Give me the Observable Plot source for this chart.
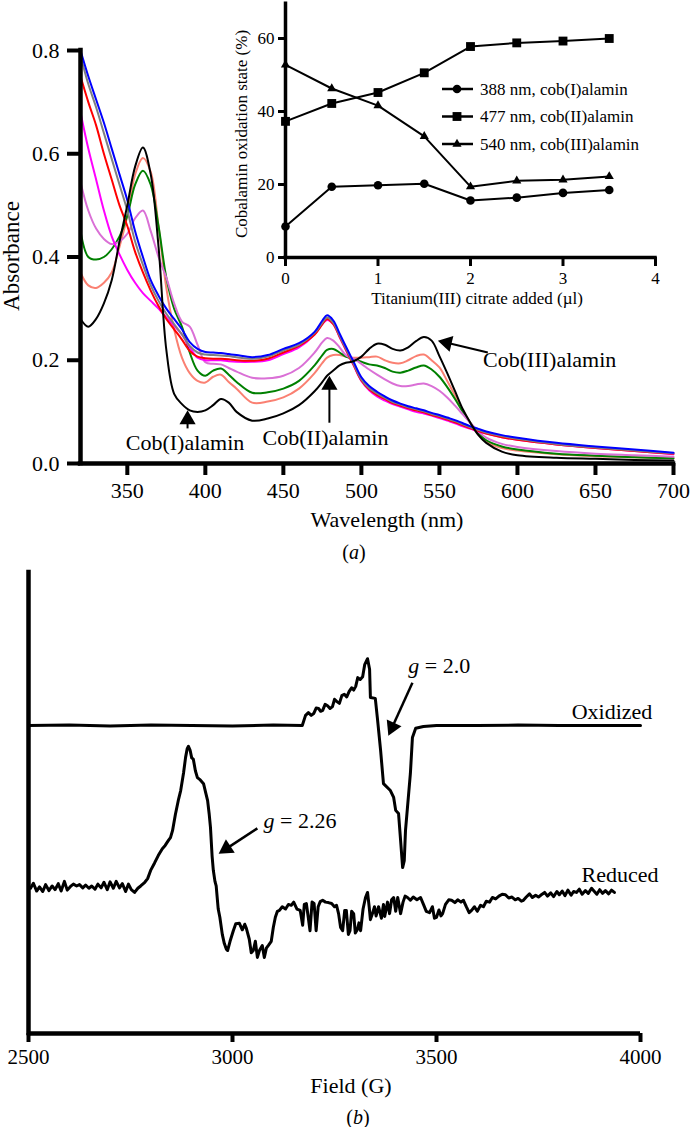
<!DOCTYPE html>
<html><head><meta charset="utf-8">
<script src="https://cdn.jsdelivr.net/npm/d3@7"></script>
<script src="https://cdn.jsdelivr.net/npm/@observablehq/plot@0.6"></script>
<style>
body{margin:0;background:#fff;}
#root{position:relative;width:692px;height:1127px;background:#fff;font-family:"Liberation Serif",serif;color:#000;overflow:hidden}
.lbl{position:absolute;white-space:nowrap;line-height:1;color:#000;font-family:"Liberation Serif",serif !important}
svg{position:absolute}
svg text{font-family:"Liberation Serif",serif !important}
</style></head><body><div id="root"></div>
<script>
// ---------------- DATA: panel (a) UV-vis spectra ----------------
const wavelengths = [320,325,330,335,340,345,350,355,360,365,370,375,380,385,390,395,400,405,410,415,420,430,440,450,460,470,475,478,482,486,490,495,500,505,510,515,520,525,530,535,540,545,550,555,560,565,570,575,580,590,600,625,650,675,700];
const specSalmon = [.37,.345,.34,.35,.37,.42,.48,.56,.592,.565,.46,.34,.26,.205,.175,.16,.157,.168,.172,.158,.145,.118,.12,.128,.145,.175,.195,.205,.21,.21,.207,.205,.205,.206,.207,.2,.195,.194,.2,.208,.211,.2,.186,.16,.132,.103,.078,.056,.042,.03,.025,.018,.014,.012,.01];
const specGreen = [.45,.40,.395,.40,.415,.44,.48,.54,.567,.54,.46,.36,.30,.265,.215,.18,.17,.18,.184,.172,.158,.137,.138,.145,.16,.19,.21,.22,.222,.215,.207,.202,.197,.192,.19,.185,.178,.176,.18,.186,.19,.182,.168,.148,.125,.1,.078,.058,.045,.033,.027,.019,.015,.012,.01];
const specOrchid = [.545,.49,.455,.435,.425,.43,.445,.475,.49,.45,.40,.36,.31,.275,.265,.23,.196,.193,.192,.185,.178,.166,.165,.17,.185,.215,.235,.243,.238,.225,.21,.203,.193,.182,.172,.163,.155,.15,.15,.153,.155,.15,.141,.128,.112,.095,.078,.062,.05,.038,.032,.024,.019,.016,.013];
const specMagenta = [.68,.61,.55,.49,.44,.405,.375,.35,.33,.315,.30,.283,.267,.25,.225,.205,.2,.2,.2,.198,.197,.197,.2,.212,.225,.25,.27,.278,.27,.245,.22,.19,.16,.142,.13,.122,.115,.11,.105,.1,.097,.093,.088,.083,.078,.072,.067,.062,.058,.051,.046,.037,.03,.024,.018];
const specRed = [.75,.70,.655,.60,.55,.50,.46,.41,.37,.335,.305,.28,.26,.24,.218,.207,.204,.203,.203,.202,.2,.199,.203,.215,.228,.25,.27,.28,.27,.246,.221,.191,.161,.144,.133,.125,.117,.112,.107,.103,.099,.094,.09,.085,.08,.074,.068,.063,.058,.051,.046,.037,.03,.024,.019];
const specGray = [.79,.735,.69,.64,.59,.54,.49,.43,.385,.345,.315,.29,.27,.25,.228,.215,.211,.21,.209,.208,.206,.203,.207,.219,.23,.253,.273,.283,.273,.248,.223,.193,.163,.146,.136,.127,.119,.114,.109,.105,.101,.096,.092,.087,.082,.076,.07,.065,.06,.053,.048,.038,.031,.025,.02];
const specBlue = [.80,.75,.705,.66,.61,.56,.51,.45,.40,.355,.325,.30,.28,.26,.235,.222,.216,.215,.214,.212,.21,.206,.21,.222,.233,.255,.277,.287,.277,.252,.227,.197,.167,.15,.139,.13,.122,.116,.111,.107,.103,.098,.094,.089,.084,.078,.072,.067,.062,.055,.05,.04,.033,.027,.021];
const specBlack = [.28,.265,.28,.31,.355,.43,.50,.575,.612,.56,.42,.22,.135,.115,.103,.10,.103,.113,.125,.118,.10,.083,.087,.097,.113,.14,.158,.17,.18,.19,.195,.198,.207,.222,.232,.23,.222,.219,.225,.237,.245,.238,.208,.175,.14,.105,.078,.055,.04,.023,.016,.011,.009,.007,.006];
const spectraNames = ["salmon","green","orchid","magenta","red","gray","blue","black"];
const spectraValues = [specSalmon,specGreen,specOrchid,specMagenta,specRed,specGray,specBlue,specBlack];
const xTicksA = [350,400,450,500,550,600,650,700];
const yTicksA = [0,0.2,0.4,0.6,0.8];

// annotations (a)
const aLabels = ["Cob(I)alamin","Cob(II)alamin","Cob(III)alamin"];
const aLabelNm = [387,477,578];
const aLabelAbs = [0.039,0.05,0.2];
const aLabelAnchor = ["middle","middle","start"];
const aFromNm = [388.6,479.5,581];
const aFromAbs = [0.068,0.079,0.215];
const aToNm = [388.6,479.5,549];
const aToAbs = [0.103,0.17,0.238];

// ---------------- DATA: inset ----------------
const titrant = [0,0.5,1,1.5,2,2.5,3,3.5];
const cobI = [8.5,19.4,19.8,20.2,15.6,16.4,17.7,18.5];
const cobII = [37.3,42.2,45.2,50.6,57.8,58.8,59.3,60.0];
const cobIII = [52.8,46.3,41.6,33.2,19.4,21.0,21.3,22.2];
const insetNames = ["388 nm, cob(I)alamin","477 nm, cob(II)alamin","540 nm, cob(III)alamin"];
const insetXTicks = [0,1,2,3,4];
const insetYTicks = [0,20,40,60];

// ---------------- DATA: panel (b) EPR ----------------
const fieldOx = [2500,2600,2700,2800,2900,3000,3100,3171,3179,3186,3193,3199,3205,3211,3216,3221,3227,3233,3239,3245,3250,3256,3262,3268,3274,3280,3286,3292,3297,3302,3307,3313,3319,3324,3331,3336,3338,3350,3355,3363,3370,3387,3395,3400,3407,3412,3417,3421,3424,3436,3441,3449,3468,3500,3600,3700,3800,3900,4000];
const sigOx = [66.8,66.9,66.7,66.9,66.8,66.7,66.9,66.8,69.0,69.6,69.0,69.4,70.6,70.5,69.9,70.1,71.4,71.1,70.5,70.9,72.5,72.0,71.6,73.3,73.6,73.0,74.2,75.0,74.5,75.3,77.2,76.8,77.4,80.0,81.3,79.0,72.9,72.7,68.5,61.4,54.2,52.7,51.2,48.4,47.7,41.9,36.0,37.5,44.0,56.4,64.2,66.2,66.6,66.8,66.8,66.9,66.8,66.8,66.8];
const fieldRed = [2505,2512,2520,2527,2535,2542,2550,2558,2565,2573,2580,2588,2595,2603,2610,2618,2625,2633,2640,2648,2655,2663,2670,2678,2685,2693,2700,2708,2715,2723,2730,2738,2745,2752,2760,2768,2775,2785,2792,2800,2809,2818,2828,2835,2843,2848,2853,2860,2867,2873,2880,2885,2889,2892,2896,2900,2904,2909,2914,2921,2929,2935,2939,2943,2946,2950,2953,2957,2960,2965,2969,2975,2980,2985,2988,2994,3002,3008,3017,3024,3030,3034,3041,3046,3051,3056,3061,3066,3073,3078,3083,3088,3095,3100,3105,3110,3115,3122,3130,3137,3144,3150,3158,3166,3172,3176,3181,3186,3190,3195,3200,3205,3210,3215,3221,3228,3235,3243,3250,3255,3260,3265,3270,3275,3279,3284,3288,3292,3297,3301,3306,3310,3314,3320,3326,3331,3335,3338,3343,3348,3352,3358,3365,3370,3373,3380,3385,3390,3395,3400,3405,3412,3418,3423,3429,3436,3443,3452,3461,3468,3475,3483,3490,3495,3500,3506,3511,3515,3522,3530,3537,3545,3552,3560,3566,3573,3580,3586,3593,3600,3608,3615,3622,3630,3637,3645,3653,3661,3669,3677,3685,3693,3700,3708,3713,3720,3728,3735,3743,3750,3757,3765,3772,3780,3787,3795,3801,3808,3815,3822,3830,3836,3843,3850,3857,3865,3872,3880,3887,3893,3900,3907,3914,3922,3929,3936];
const sigRed = [31.5,32.6,30.9,31.8,30.8,32.3,31.0,32.0,31.2,32.5,30.9,33.0,31.1,31.9,32.4,32.0,32.3,31.6,32.2,31.5,32.0,31.3,32.4,31.6,32.8,31.2,32.9,31.5,33.0,31.6,32.5,30.8,32.4,31.2,30.6,31.5,32.0,32.8,33.6,35.5,37.0,38.6,40.1,40.8,41.9,42.5,44.0,47.5,50.5,52.7,56.5,59.9,61.8,62.3,61.5,59.8,59.5,57.0,55.5,55.0,54.2,52.0,50.5,47.5,44.7,38.5,35.4,33.0,32.0,27.0,25.2,21.5,19.5,18.3,18.0,20.0,22.3,23.8,23.9,22.5,23.7,22.8,20.5,17.5,18.0,20.0,16.5,18.0,19.1,16.5,18.5,19.1,20.0,23.0,25.2,26.5,26.7,27.5,27.0,28.0,27.8,28.5,27.0,26.7,23.5,28.0,28.2,25.0,22.3,28.5,28.2,22.3,27.5,28.6,28.9,28.5,28.4,28.2,27.5,27.8,26.0,23.0,22.3,26.7,26.7,21.5,22.3,26.5,26.0,21.8,22.5,24.0,22.3,27.0,29.5,30.6,27.5,24.7,26.0,27.5,25.5,27.5,25.0,28.0,25.4,28.5,26.0,29.0,29.5,26.5,29.5,26.0,28.5,29.8,29.5,28.9,29.6,29.0,29.5,28.0,26.5,26.2,27.5,25.0,25.2,26.8,25.5,26.0,28.0,29.0,28.9,28.4,29.0,28.5,28.9,27.5,26.2,26.7,27.5,26.5,27.8,27.5,28.7,28.5,29.5,29.2,29.8,30.2,30.1,29.4,29.6,29.0,29.3,28.7,28.9,29.6,30.3,29.5,30.0,29.6,30.1,30.6,29.8,30.5,29.7,30.8,30.1,30.9,29.9,31.1,30.0,30.8,30.6,31.3,30.2,31.0,30.4,31.5,30.8,30.2,31.2,30.4,31.0,30.3,31.1,30.6];
const xTicksB = [2500,3000,3500,4000];
const bLabels = ["g = 2.0","g = 2.26","Oxidized","Reduced"];
const bLabelField = [3431,3076,4029,4044];
const bLabelSig = [79.8,46.2,69.8,34.3];
const bLabelAnchor = ["start","start","end","end"];
const bFromField = [3441,3061];
const bFromSig = [76.1,44.5];
const bToField = [3382,2966];
const bToSig = [64.6,39.0];

// ---------------- STYLES ----------------
const FONT = '"Liberation Serif", serif';
const spectraColors = ["#f06f7c","#80e66e","#db86dc","#f23cae","#e3201f","#3f3f3f","#3656dc","#111111"];
const root = document.getElementById("root");

function lin(d0,d1,r0,r1){return v => r0 + (v-d0)/(d1-d0)*(r1-r0);}
function arrowMarks(x1,y1,x2,y2,sx,sy,r,sw){
  const dxp = sx(x2)-sx(x1), dyp = sy(y2)-sy(y1);
  const len = Math.hypot(dxp,dyp), ux = dxp/len, uy = dyp/len;
  const ang = Math.atan2(ux,-uy)*180/Math.PI;
  const off = 1.555*r;
  const f = Math.max(0,(len-off)/len);
  const ex = x1+(x2-x1)*f, ey = y1+(y2-y1)*f;
  return [
    Plot.link([{x1,y1,x2:ex,y2:ey}],{x1:"x1",y1:"y1",x2:"x2",y2:"y2",stroke:"black",strokeWidth:sw}),
    Plot.dot([{x:x2,y:y2}],{x:"x",y:"y",symbol:"triangle",r,fill:"black",stroke:"none",rotate:ang,dx:-ux*off,dy:-uy*off})
  ];
}
function addLabel(html,cx,cy,size,rot){
  const d = document.createElement("div");
  d.className="lbl"; d.innerHTML = html;
  d.style.fontSize = size+"px"; d.style.left = cx+"px"; d.style.top = cy+"px";
  d.style.transform = "translate(-50%,-50%)" + (rot ? " rotate("+rot+"deg)" : "");
  root.appendChild(d);
}
function place(svg,left,top){svg.style.left=left+"px";svg.style.top=top+"px";root.appendChild(svg);}

// ---------------- PANEL (a) main ----------------
const specRows = [];
spectraNames.forEach((n,i)=>wavelengths.forEach((w,j)=>specRows.push({series:n,nm:w,A:spectraValues[i][j]})));
const A = {w:692,h:535,ml:80,mr:19,mt:50,mb:72};
const ax = lin(320,700,A.ml,A.w-A.mr), ay = lin(0,0.8,A.h-A.mb,A.mt);
const aAnnot = aLabels.map((t,i)=>({t,nm:aLabelNm[i],A:aLabelAbs[i],a:aLabelAnchor[i]}));
const aArrows = aLabels.flatMap((t,i)=>arrowMarks(aFromNm[i],aFromAbs[i],aToNm[i],aToAbs[i],ax,ay,6,2));
const mainPlot = Plot.plot({
  width:A.w,height:A.h,marginLeft:A.ml,marginRight:A.mr,marginTop:A.mt,marginBottom:A.mb,
  style:{fontFamily:FONT,fontSize:"22px",background:"transparent",color:"#000",overflow:"visible"},
  x:{domain:[320,700]},y:{domain:[0,0.8]},
  color:{domain:spectraNames,range:spectraColors},
  marks:[
    Plot.line(specRows,{x:"nm",y:"A",z:"series",stroke:"series",strokeWidth:2,curve:"catmull-rom"}),
    Plot.ruleY([0],{strokeWidth:4.5,strokeLinecap:"square"}),
    Plot.ruleX([320],{strokeWidth:4.5,strokeLinecap:"square"}),
    Plot.axisX({ticks:xTicksA,tickSize:12,tickPadding:7,strokeWidth:4,fontSize:22,fontFamily:FONT,label:null,tickFormat:d=>String(d)}),
    Plot.axisY({ticks:yTicksA,tickSize:13,tickPadding:8,strokeWidth:4,fontSize:22,fontFamily:FONT,label:null,tickFormat:d3.format(".1f")}),
    ...aArrows,
    Plot.text(aAnnot.filter(d=>d.a==="middle"),{x:"nm",y:"A",text:"t",fontSize:22,fontFamily:FONT,textAnchor:"middle",fill:"black"}),
    Plot.text(aAnnot.filter(d=>d.a==="start"),{x:"nm",y:"A",text:"t",fontSize:22,fontFamily:FONT,textAnchor:"start",fill:"black"})
  ]
});
place(mainPlot,0,0);

// ---------------- INSET ----------------
const insetRows = [cobI,cobII,cobIII].flatMap((arr,k)=>titrant.map((t,i)=>({s:insetNames[k],t,v:arr[i]})));
const insetSymbols = ["circle","square","triangle"];
const insetR = [4.3,5,3.4];
const I = {w:460,h:310,ml:65,mr:25,mt:1.5,mb:53};
const insetPlot = Plot.plot({
  width:I.w,height:I.h,marginLeft:I.ml,marginRight:I.mr,marginTop:I.mt,marginBottom:I.mb,
  style:{fontFamily:FONT,fontSize:"17px",background:"transparent",color:"#000",overflow:"visible"},
  x:{domain:[0,4]},y:{domain:[0,70]},
  marks:[
    Plot.ruleY([0],{strokeWidth:3.5,strokeLinecap:"square"}),
    Plot.ruleX([0],{strokeWidth:3.5}),
    Plot.axisX({ticks:insetXTicks,tickSize:9,tickPadding:5,strokeWidth:3,fontSize:17,fontFamily:FONT,label:null,tickFormat:d=>String(d)}),
    Plot.axisY({ticks:insetYTicks,tickSize:7,tickPadding:4,strokeWidth:3,fontSize:17,fontFamily:FONT,label:null,tickFormat:d=>String(d)}),
    Plot.line(insetRows,{x:"t",y:"v",z:"s",stroke:"black",strokeWidth:2}),
    ...insetNames.map((n,k)=>Plot.dot(insetRows.filter(d=>d.s===n),{x:"t",y:"v",symbol:insetSymbols[k],r:insetR[k],fill:"black",stroke:"none"}))
  ]
});
place(insetPlot,220,0);

// inset legend
const leg = d3.create("svg").attr("width",240).attr("height",86).style("overflow","visible");
insetNames.forEach((n,k)=>{
  const g = leg.append("g").attr("transform",`translate(0,${15+k*27.5})`);
  g.append("line").attr("x1",6).attr("x2",37).attr("y1",0).attr("y2",0).attr("stroke","black").attr("stroke-width",2.5);
  g.append("path").attr("transform","translate(21,0)").attr("d",d3.symbol(d3["symbol"+insetSymbols[k][0].toUpperCase()+insetSymbols[k].slice(1)],Math.PI*insetR[k]*insetR[k])()).attr("fill","black");
  g.append("text").attr("x",44).attr("y",0).attr("dy","0.35em").style("font-family",FONT).attr("font-size",17).text(n);
});
place(leg.node(),436,74);

// ---------------- PANEL (b) EPR ----------------
const B = {w:692,h:587,ml:28,mr:52,mt:32,mb:94};
const bx = lin(2500,4000,B.ml,B.w-B.mr), by = lin(0,100,B.h-B.mb,B.mt);
const oxRows = fieldOx.map((f,i)=>({f,s:sigOx[i]}));
const redRows = fieldRed.map((f,i)=>({f,s:sigRed[i]}));
const bAnnot = bLabels.map((t,i)=>({t,f:bLabelField[i],s:bLabelSig[i],a:bLabelAnchor[i]}));
const eprPlot = Plot.plot({
  width:B.w,height:B.h,marginLeft:B.ml,marginRight:B.mr,marginTop:B.mt,marginBottom:B.mb,
  style:{fontFamily:FONT,fontSize:"21px",background:"transparent",color:"#000",overflow:"visible"},
  x:{domain:[2500,4000]},y:{domain:[0,100],axis:null},
  marks:[
    Plot.ruleX([2500],{strokeWidth:4.5,strokeLinecap:"square"}),
    Plot.ruleY([0],{strokeWidth:4.5}),
    Plot.axisX({ticks:xTicksB,tickSize:9,tickPadding:7,strokeWidth:4,fontSize:21,fontFamily:FONT,label:null,tickFormat:d=>String(d)}),
    Plot.line(oxRows,{x:"f",y:"s",stroke:"black",strokeWidth:3,strokeLinejoin:"round"}),
    Plot.line(redRows,{x:"f",y:"s",stroke:"black",strokeWidth:3,strokeLinejoin:"round"}),
    Plot.text(bAnnot.filter(d=>d.a==="start"),{x:"f",y:"s",text:"t",fontSize:22,fontFamily:FONT,textAnchor:"start",fill:"black"}),
    Plot.text(bAnnot.filter(d=>d.a==="end"),{x:"f",y:"s",text:"t",fontSize:22,fontFamily:FONT,textAnchor:"end",fill:"black"}),
    ...bFromField.flatMap((f,i)=>arrowMarks(f,bFromSig[i],bToField[i],bToSig[i],bx,by,6,2.5))
  ]
});
// italic g
eprPlot.querySelectorAll("text").forEach(t=>{
  const s = t.textContent;
  if (s.startsWith("g =")) {
    t.textContent = "";
    const ns = "http://www.w3.org/2000/svg";
    const a = document.createElementNS(ns,"tspan"); a.setAttribute("font-style","italic"); a.textContent = "g";
    const b = document.createElementNS(ns,"tspan"); b.textContent = s.slice(1);
    t.appendChild(a); t.appendChild(b);
  }
});
place(eprPlot,0,540);

// ---------------- Text labels ----------------
addLabel("Absorbance",11,256,23,-90);
addLabel("Wavelength (nm)",387,520,22);
addLabel("(<i>a</i>)",354,552,20);
addLabel("Cobalamin oxidation state (%)",241,134,17,-90);
addLabel("Titanium(III) citrate added (µl)",477,298,17);
addLabel("Field (G)",351,1086,22);
addLabel("(<i>b</i>)",358,1117,20);
</script></body></html>
